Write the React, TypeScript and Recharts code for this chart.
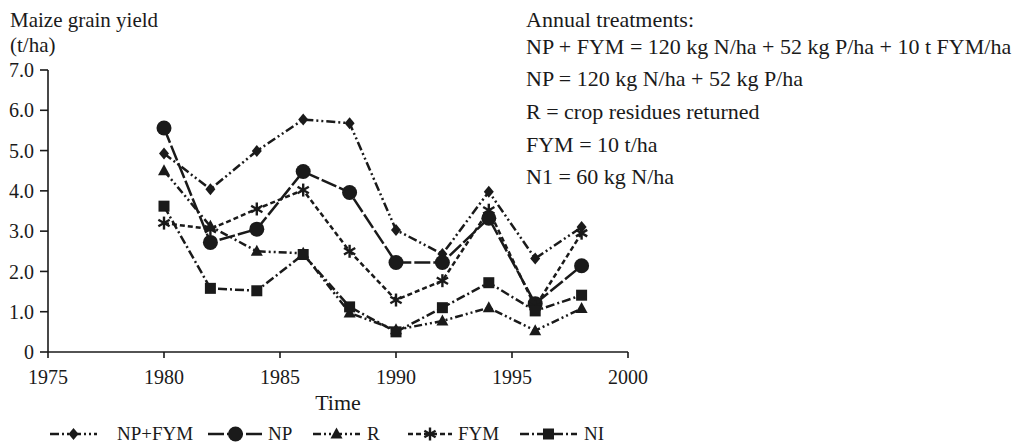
import React from "react";
import { LineChart, Line, XAxis, YAxis, Legend } from "recharts";

const years = [1980, 1982, 1984, 1986, 1988, 1990, 1992, 1994, 1996, 1998];
const npFym = [4.93, 4.04, 4.99, 5.77, 5.68, 3.03, 2.43, 3.98, 2.32, 3.1];
const np = [5.56, 2.72, 3.05, 4.48, 3.96, 2.22, 2.22, 3.32, 1.2, 2.14];
const rRes = [4.5, 3.12, 2.5, 2.45, 0.97, 0.55, 0.77, 1.1, 0.53, 1.08];
const fym = [3.2, 3.05, 3.55, 4.02, 2.5, 1.29, 1.77, 3.52, 1.12, 2.95];
const ni = [3.62, 1.58, 1.52, 2.42, 1.12, 0.5, 1.1, 1.72, 1.02, 1.41];

const xTicks = [1975, 1980, 1985, 1990, 1995, 2000];
const yTicks = [0, 1, 2, 3, 4, 5, 6, 7];

const seriesNames = ["NP+FYM", "NP", "R", "FYM", "NI"];
const notes = [
  "Annual treatments:",
  "NP + FYM = 120 kg N/ha + 52 kg P/ha + 10 t FYM/ha",
  "NP = 120 kg N/ha + 52 kg P/ha",
  "R = crop residues returned",
  "FYM = 10 t/ha",
  "N1 = 60 kg N/ha",
];
const yLabelLines = ["Maize grain yield", "(t/ha)"];
const xLabel = "Time";

const data = years.map((y, i) => ({
  year: y,
  npFym: npFym[i],
  np: np[i],
  r: rRes[i],
  fym: fym[i],
  ni: ni[i],
}));

const FONT = "'Liberation Serif', 'Times New Roman', serif";
const INK = "#1a1a1a";

type Shape = "diamond" | "circle" | "triangle" | "star" | "square";

function marker(shape: Shape, cx: number, cy: number, key?: string | number) {
  switch (shape) {
    case "diamond":
      return (
        <path key={key} d={`M${cx},${cy - 6} L${cx + 5},${cy} L${cx},${cy + 6} L${cx - 5},${cy} Z`} fill={INK} />
      );
    case "circle":
      return <circle key={key} cx={cx} cy={cy} r={7.5} fill={INK} />;
    case "triangle":
      return (
        <path key={key} d={`M${cx},${cy - 6.5} L${cx + 6},${cy + 4.5} L${cx - 6},${cy + 4.5} Z`} fill={INK} />
      );
    case "square":
      return <rect key={key} x={cx - 5.5} y={cy - 5.5} width={11} height={11} fill={INK} />;
    case "star": {
      const r = 6.5;
      const a = Math.cos(Math.PI / 6) * r;
      const b = Math.sin(Math.PI / 6) * r;
      return (
        <g key={key} stroke={INK} strokeWidth={2.4} strokeLinecap="butt">
          <line x1={cx} y1={cy - r} x2={cx} y2={cy + r} />
          <line x1={cx - a} y1={cy - b} x2={cx + a} y2={cy + b} />
          <line x1={cx - a} y1={cy + b} x2={cx + a} y2={cy - b} />
        </g>
      );
    }
  }
}

const seriesDefs: { key: string; name: string; shape: Shape; dash: string }[] = [
  { key: "npFym", name: seriesNames[0], shape: "diamond", dash: "9 3 2 3 2 3" },
  { key: "np", name: seriesNames[1], shape: "circle", dash: "16 3" },
  { key: "r", name: seriesNames[2], shape: "triangle", dash: "8 3 2 3 2 3" },
  { key: "fym", name: seriesNames[3], shape: "star", dash: "5 3" },
  { key: "ni", name: seriesNames[4], shape: "square", dash: "9 3 2 3" },
];

const legendLayout = [
  { left: 50, icon: 47, gap: 20 },
  { left: 208, icon: 55, gap: 5 },
  { left: 313, icon: 47, gap: 7 },
  { left: 408, icon: 44, gap: 6 },
  { left: 520, icon: 57, gap: 7 },
];

const LegendContent = () => (
  <div style={{ position: "relative", width: 1034, height: 24 }}>
    {seriesDefs.map((s, i) => {
      const L = legendLayout[i];
      return (
        <div
          key={s.key}
          style={{
            position: "absolute",
            left: L.left,
            top: 0,
            display: "flex",
            alignItems: "center",
            height: 24,
          }}
        >
          <svg width={L.icon} height={20} style={{ display: "block" }}>
            <line x1={0} y1={10} x2={L.icon} y2={10} stroke={INK} strokeWidth={2.5} strokeDasharray={s.dash} />
            {marker(s.shape, L.icon / 2, 10)}
          </svg>
          <span
            style={{
              marginLeft: L.gap,
              fontFamily: FONT,
              fontSize: 19,
              color: INK,
              lineHeight: "24px",
              whiteSpace: "nowrap",
            }}
          >
            {s.name}
          </span>
        </div>
      );
    })}
  </div>
);

export default function App() {
  return (
    <div style={{ position: "absolute", left: 0, top: 0, width: 1034, height: 446, background: "#fff" }}>
      <LineChart
        width={1034}
        height={446}
        data={data}
        margin={{ top: 70, right: 406, bottom: 64, left: 0 }}
      >
        <XAxis
          dataKey="year"
          type="number"
          domain={[1975, 2000]}
          ticks={xTicks}
          height={30}
          tickSize={6}
          tickMargin={12}
          axisLine={{ stroke: INK, strokeWidth: 1.6 }}
          tickLine={{ stroke: INK, strokeWidth: 1.6 }}
          tick={{ fill: INK, fontSize: 20, fontFamily: FONT }}
          interval={0}
        />
        <YAxis
          type="number"
          domain={[0, 7]}
          ticks={yTicks}
          width={48}
          tickSize={8}
          tickMargin={6}
          axisLine={{ stroke: INK, strokeWidth: 1.6 }}
          tickLine={{ stroke: INK, strokeWidth: 1.6 }}
          tick={{ fill: INK, fontSize: 20, fontFamily: FONT }}
          tickFormatter={(v: number) => (v === 0 ? "0" : v.toFixed(1))}
          interval={0}
        />
        <Legend
          layout="horizontal"
          verticalAlign="middle"
          align="center"
          wrapperStyle={{ top: 422, left: 0, width: 1034 }}
          content={() => <LegendContent />}
        />
        {seriesDefs.map((s) => (
          <Line
            key={s.key}
            dataKey={s.key}
            name={s.name}
            stroke={INK}
            strokeWidth={2.5}
            strokeDasharray={s.dash}
            isAnimationActive={false}
            legendType="none"
            dot={(p: any) => marker(s.shape, p.cx, p.cy, `${s.key}-${p.index}`) as any}
            activeDot={false}
          />
        ))}
      </LineChart>
      <svg
        width={1034}
        height={446}
        style={{ position: "absolute", left: 0, top: 0, pointerEvents: "none" }}
      >
        <g fontFamily={FONT} fill={INK}>
          <text x={10} y={27} fontSize={21}>{yLabelLines[0]}</text>
          <text x={10} y={52} fontSize={21}>{yLabelLines[1]}</text>
          <text x={338} y={410} fontSize={22} textAnchor="middle">{xLabel}</text>
          {notes.map((t, i) => (
            <text key={i} x={526} y={[27, 54, 86, 119, 152, 184][i]} fontSize={22}>
              {t}
            </text>
          ))}
        </g>
      </svg>
    </div>
  );
}
